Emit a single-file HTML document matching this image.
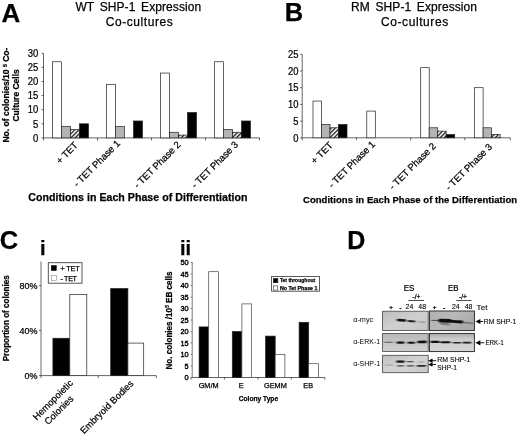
<!DOCTYPE html>
<html><head><meta charset="utf-8"><title>Figure</title>
<style>
html,body{margin:0;padding:0;background:#fff;}
text{stroke:#000;stroke-width:0.25px;}
svg{display:block;font-family:'Liberation Sans', sans-serif;}
</style></head>
<body>
<svg width="520" height="437" viewBox="0 0 520 437">
<defs>
<pattern id="hatch" width="3" height="3" patternUnits="userSpaceOnUse" patternTransform="rotate(-45)">
<rect width="3" height="3" fill="#fff"/><rect width="3" height="1.3" fill="#111"/>
</pattern>
<filter id="b2" x="370" y="300" width="120" height="90" filterUnits="userSpaceOnUse"><feGaussianBlur stdDeviation="0.85 0.6"/></filter>
<linearGradient id="g1" x1="0" y1="0" x2="1" y2="1"><stop offset="0" stop-color="#bdbdbd"/><stop offset="0.5" stop-color="#d0d0d0"/><stop offset="1" stop-color="#c4c4c4"/></linearGradient>
<linearGradient id="g2" x1="0" y1="0" x2="1" y2="0.6"><stop offset="0" stop-color="#b0b0b0"/><stop offset="0.5" stop-color="#b8b8b8"/><stop offset="1" stop-color="#a8a8a8"/></linearGradient>
<linearGradient id="g3" x1="0" y1="0" x2="0" y2="1"><stop offset="0" stop-color="#b8b8b8"/><stop offset="0.5" stop-color="#c6c6c6"/><stop offset="1" stop-color="#cfcfcf"/></linearGradient>
<linearGradient id="g4" x1="0" y1="0" x2="0" y2="1"><stop offset="0" stop-color="#a8a8a8"/><stop offset="0.3" stop-color="#cccccc"/><stop offset="1" stop-color="#d6d6d6"/></linearGradient>
<linearGradient id="g5" x1="0" y1="0" x2="1" y2="1"><stop offset="0" stop-color="#c0c0c0"/><stop offset="0.5" stop-color="#d4d4d4"/><stop offset="1" stop-color="#c8c8c8"/></linearGradient>
</defs>
<rect width="520" height="437" fill="#fff"/>
<g fill="#000" opacity="0.999" class="t">
<text x="1.6" y="21.7" font-size="26" font-weight="bold" text-anchor="start">A</text>
<text x="75.4" y="10.9" font-size="12" font-weight="normal" text-anchor="start" textLength="125.8" lengthAdjust="spacing" style="word-spacing:2.2px">WT SHP-1 Expression</text>
<text x="105.8" y="26.1" font-size="12" font-weight="normal" text-anchor="start" textLength="66.9" lengthAdjust="spacing">Co-cultures</text>
<line x1="43.50" y1="53.40" x2="43.50" y2="137.90" stroke="#333" stroke-width="0.75"/>
<line x1="41.50" y1="137.90" x2="43.50" y2="137.90" stroke="#333" stroke-width="0.75"/>
<text x="0" y="0" font-size="10.5" font-weight="normal" text-anchor="end" transform="translate(38.2 141.6) scale(0.9 1)">0</text>
<line x1="41.50" y1="123.80" x2="43.50" y2="123.80" stroke="#333" stroke-width="0.75"/>
<text x="0" y="0" font-size="10.5" font-weight="normal" text-anchor="end" transform="translate(38.2 127.50000000000001) scale(0.9 1)">5</text>
<line x1="41.50" y1="109.70" x2="43.50" y2="109.70" stroke="#333" stroke-width="0.75"/>
<text x="0" y="0" font-size="10.5" font-weight="normal" text-anchor="end" transform="translate(38.2 113.4) scale(0.9 1)">10</text>
<line x1="41.50" y1="95.60" x2="43.50" y2="95.60" stroke="#333" stroke-width="0.75"/>
<text x="0" y="0" font-size="10.5" font-weight="normal" text-anchor="end" transform="translate(38.2 99.30000000000001) scale(0.9 1)">15</text>
<line x1="41.50" y1="81.50" x2="43.50" y2="81.50" stroke="#333" stroke-width="0.75"/>
<text x="0" y="0" font-size="10.5" font-weight="normal" text-anchor="end" transform="translate(38.2 85.2) scale(0.9 1)">20</text>
<line x1="41.50" y1="67.40" x2="43.50" y2="67.40" stroke="#333" stroke-width="0.75"/>
<text x="0" y="0" font-size="10.5" font-weight="normal" text-anchor="end" transform="translate(38.2 71.10000000000001) scale(0.9 1)">25</text>
<line x1="41.50" y1="53.30" x2="43.50" y2="53.30" stroke="#333" stroke-width="0.75"/>
<text x="0" y="0" font-size="10.5" font-weight="normal" text-anchor="end" transform="translate(38.2 57.000000000000014) scale(0.9 1)">30</text>
<line x1="43.50" y1="137.90" x2="259.60" y2="137.90" stroke="#333" stroke-width="0.75"/>
<line x1="43.50" y1="137.90" x2="43.50" y2="140.40" stroke="#333" stroke-width="0.75"/>
<line x1="97.50" y1="137.90" x2="97.50" y2="140.40" stroke="#333" stroke-width="0.75"/>
<line x1="151.50" y1="137.90" x2="151.50" y2="140.40" stroke="#333" stroke-width="0.75"/>
<line x1="205.50" y1="137.90" x2="205.50" y2="140.40" stroke="#333" stroke-width="0.75"/>
<line x1="259.50" y1="137.90" x2="259.50" y2="140.40" stroke="#333" stroke-width="0.75"/>
<rect x="52.50" y="61.76" width="9.00" height="76.14" fill="#fff" stroke="#222" stroke-width="0.7"/>
<rect x="61.50" y="126.62" width="9.00" height="11.28" fill="#b4b4b4" stroke="#222" stroke-width="0.7"/>
<rect x="70.50" y="129.44" width="9.00" height="8.46" fill="url(#hatch)" stroke="#222" stroke-width="0.7"/>
<rect x="79.50" y="123.80" width="9.00" height="14.10" fill="#000" stroke="#222" stroke-width="0.7"/>
<rect x="106.50" y="84.32" width="9.00" height="53.58" fill="#fff" stroke="#222" stroke-width="0.7"/>
<rect x="115.50" y="126.62" width="9.00" height="11.28" fill="#b4b4b4" stroke="#222" stroke-width="0.7"/>
<rect x="133.50" y="120.98" width="9.00" height="16.92" fill="#000" stroke="#222" stroke-width="0.7"/>
<rect x="160.50" y="73.04" width="9.00" height="64.86" fill="#fff" stroke="#222" stroke-width="0.7"/>
<rect x="169.50" y="132.26" width="9.00" height="5.64" fill="#b4b4b4" stroke="#222" stroke-width="0.7"/>
<rect x="178.50" y="135.08" width="9.00" height="2.82" fill="url(#hatch)" stroke="#222" stroke-width="0.7"/>
<rect x="187.50" y="112.52" width="9.00" height="25.38" fill="#000" stroke="#222" stroke-width="0.7"/>
<rect x="214.50" y="61.76" width="9.00" height="76.14" fill="#fff" stroke="#222" stroke-width="0.7"/>
<rect x="223.50" y="129.44" width="9.00" height="8.46" fill="#b4b4b4" stroke="#222" stroke-width="0.7"/>
<rect x="232.50" y="132.26" width="9.00" height="5.64" fill="url(#hatch)" stroke="#222" stroke-width="0.7"/>
<rect x="241.50" y="120.98" width="9.00" height="16.92" fill="#000" stroke="#222" stroke-width="0.7"/>
<text x="0" y="0" font-size="9.6" font-weight="normal" text-anchor="end" transform="translate(78.5 145.9) rotate(-45)">+ TET</text>
<text x="0" y="0" font-size="9.6" font-weight="normal" text-anchor="end" transform="translate(120.8 144) rotate(-45)">- TET Phase 1</text>
<text x="0" y="0" font-size="9.6" font-weight="normal" text-anchor="end" transform="translate(181.3 145.3) rotate(-45)">- TET Phase 2</text>
<text x="0" y="0" font-size="9.6" font-weight="normal" text-anchor="end" transform="translate(238.8 145.3) rotate(-45)">- TET Phase 3</text>
<text x="28.3" y="201.4" font-size="10.6" font-weight="bold" text-anchor="start" textLength="219.2" lengthAdjust="spacing">Conditions in Each Phase of Differentiation</text>
<text x="0" y="0" font-size="9.2" font-weight="bold" text-anchor="start" transform="translate(9.1 142.6) rotate(-90)" textLength="95" lengthAdjust="spacingAndGlyphs">No. of colonies/10 <tspan font-size="5.5" dy="-2.5">5</tspan><tspan dy="2.5"> Co-</tspan></text>
<text x="0" y="0" font-size="9" font-weight="bold" text-anchor="start" transform="translate(18.9 121.5) rotate(-90)" textLength="52.2" lengthAdjust="spacingAndGlyphs">Culture Cells</text>
<text x="284.8" y="20.9" font-size="25.5" font-weight="bold" text-anchor="start">B</text>
<text x="351" y="11" font-size="12" font-weight="normal" text-anchor="start" textLength="126" lengthAdjust="spacing" style="word-spacing:2.2px">RM SHP-1 Expression</text>
<text x="381" y="26" font-size="12" font-weight="normal" text-anchor="start" textLength="67.2" lengthAdjust="spacing">Co-cultures</text>
<line x1="302.20" y1="54.30" x2="302.20" y2="137.80" stroke="#333" stroke-width="0.75"/>
<line x1="300.20" y1="137.80" x2="302.20" y2="137.80" stroke="#333" stroke-width="0.75"/>
<text x="0" y="0" font-size="10.5" font-weight="normal" text-anchor="end" transform="translate(298.4 141.5) scale(0.9 1)">0</text>
<line x1="300.20" y1="121.10" x2="302.20" y2="121.10" stroke="#333" stroke-width="0.75"/>
<text x="0" y="0" font-size="10.5" font-weight="normal" text-anchor="end" transform="translate(298.4 124.80000000000001) scale(0.9 1)">5</text>
<line x1="300.20" y1="104.40" x2="302.20" y2="104.40" stroke="#333" stroke-width="0.75"/>
<text x="0" y="0" font-size="10.5" font-weight="normal" text-anchor="end" transform="translate(298.4 108.10000000000001) scale(0.9 1)">10</text>
<line x1="300.20" y1="87.70" x2="302.20" y2="87.70" stroke="#333" stroke-width="0.75"/>
<text x="0" y="0" font-size="10.5" font-weight="normal" text-anchor="end" transform="translate(298.4 91.40000000000002) scale(0.9 1)">15</text>
<line x1="300.20" y1="71.00" x2="302.20" y2="71.00" stroke="#333" stroke-width="0.75"/>
<text x="0" y="0" font-size="10.5" font-weight="normal" text-anchor="end" transform="translate(298.4 74.70000000000002) scale(0.9 1)">20</text>
<line x1="300.20" y1="54.30" x2="302.20" y2="54.30" stroke="#333" stroke-width="0.75"/>
<text x="0" y="0" font-size="10.5" font-weight="normal" text-anchor="end" transform="translate(298.4 58.000000000000014) scale(0.9 1)">25</text>
<line x1="302.20" y1="137.80" x2="510.30" y2="137.80" stroke="#333" stroke-width="0.75"/>
<line x1="302.20" y1="137.80" x2="302.20" y2="140.30" stroke="#333" stroke-width="0.75"/>
<line x1="356.50" y1="137.80" x2="356.50" y2="140.30" stroke="#333" stroke-width="0.75"/>
<line x1="410.70" y1="137.80" x2="410.70" y2="140.30" stroke="#333" stroke-width="0.75"/>
<line x1="464.80" y1="137.80" x2="464.80" y2="140.30" stroke="#333" stroke-width="0.75"/>
<line x1="510.30" y1="137.80" x2="510.30" y2="140.30" stroke="#333" stroke-width="0.75"/>
<rect x="313.00" y="101.06" width="8.50" height="36.74" fill="#fff" stroke="#222" stroke-width="0.7"/>
<rect x="321.50" y="124.44" width="8.50" height="13.36" fill="#b4b4b4" stroke="#222" stroke-width="0.7"/>
<rect x="330.00" y="127.78" width="8.50" height="10.02" fill="url(#hatch)" stroke="#222" stroke-width="0.7"/>
<rect x="338.50" y="124.44" width="8.50" height="13.36" fill="#000" stroke="#222" stroke-width="0.7"/>
<rect x="366.80" y="111.08" width="8.50" height="26.72" fill="#fff" stroke="#222" stroke-width="0.7"/>
<rect x="420.70" y="67.66" width="8.50" height="70.14" fill="#fff" stroke="#222" stroke-width="0.7"/>
<rect x="429.20" y="127.78" width="8.50" height="10.02" fill="#b4b4b4" stroke="#222" stroke-width="0.7"/>
<rect x="437.70" y="131.12" width="8.50" height="6.68" fill="url(#hatch)" stroke="#222" stroke-width="0.7"/>
<rect x="446.20" y="134.46" width="8.50" height="3.34" fill="#000" stroke="#222" stroke-width="0.7"/>
<rect x="474.60" y="87.70" width="8.50" height="50.10" fill="#fff" stroke="#222" stroke-width="0.7"/>
<rect x="483.10" y="127.78" width="8.50" height="10.02" fill="#b4b4b4" stroke="#222" stroke-width="0.7"/>
<rect x="491.60" y="134.46" width="8.50" height="3.34" fill="url(#hatch)" stroke="#222" stroke-width="0.7"/>
<text x="0" y="0" font-size="9.6" font-weight="normal" text-anchor="end" transform="translate(333.3 145.9) rotate(-45)">+ TET</text>
<text x="0" y="0" font-size="9.6" font-weight="normal" text-anchor="end" transform="translate(375.7 145) rotate(-45)">- TET Phase 1</text>
<text x="0" y="0" font-size="9.6" font-weight="normal" text-anchor="end" transform="translate(436.5 146.7) rotate(-45)">- TET Phase 2</text>
<text x="0" y="0" font-size="9.6" font-weight="normal" text-anchor="end" transform="translate(492.8 147.5) rotate(-45)">- TET Phase 3</text>
<text x="303.0" y="203.3" font-size="9.5" font-weight="bold" text-anchor="start" textLength="214.1" lengthAdjust="spacing">Conditions in Each Phase of the Differentiation</text>
<text x="-0.3" y="249.2" font-size="25.5" font-weight="bold" text-anchor="start">C</text>
<text x="39.9" y="255.2" font-size="20" font-weight="bold" text-anchor="start">i</text>
<line x1="41.00" y1="261.60" x2="41.00" y2="375.60" stroke="#444" stroke-width="0.8"/>
<line x1="41.00" y1="375.60" x2="156.30" y2="375.60" stroke="#333" stroke-width="0.75"/>
<line x1="41.00" y1="375.60" x2="41.00" y2="378.10" stroke="#333" stroke-width="0.75"/>
<line x1="98.20" y1="375.60" x2="98.20" y2="378.10" stroke="#333" stroke-width="0.75"/>
<line x1="156.30" y1="375.60" x2="156.30" y2="378.10" stroke="#333" stroke-width="0.75"/>
<line x1="39.00" y1="375.60" x2="41.00" y2="375.60" stroke="#333" stroke-width="0.75"/>
<text x="37.4" y="378.90000000000003" font-size="9" font-weight="normal" text-anchor="end">0%</text>
<line x1="39.00" y1="330.60" x2="41.00" y2="330.60" stroke="#333" stroke-width="0.75"/>
<text x="37.4" y="333.90000000000003" font-size="9" font-weight="normal" text-anchor="end">40%</text>
<line x1="39.00" y1="285.60" x2="41.00" y2="285.60" stroke="#333" stroke-width="0.75"/>
<text x="37.4" y="288.90000000000003" font-size="9" font-weight="normal" text-anchor="end">80%</text>
<rect x="52.90" y="338.25" width="16.90" height="37.35" fill="#000" stroke="#222" stroke-width="0.7"/>
<rect x="69.80" y="294.60" width="17.00" height="81.00" fill="#fff" stroke="#222" stroke-width="0.7"/>
<rect x="110.70" y="288.53" width="17.20" height="87.08" fill="#000" stroke="#222" stroke-width="0.7"/>
<rect x="127.90" y="343.09" width="15.80" height="32.51" fill="#fff" stroke="#222" stroke-width="0.7"/>
<rect x="48.30" y="262.70" width="33.70" height="20.50" fill="#fff" stroke="#444" stroke-width="0.9"/>
<rect x="51.20" y="265.40" width="5.30" height="5.30" fill="#000" stroke="#000" stroke-width="0.3"/>
<rect x="51.30" y="275.40" width="5.10" height="5.10" fill="#fff" stroke="#888" stroke-width="0.6"/>
<text x="60.5" y="270.6" font-size="7.2" font-weight="normal" text-anchor="start" textLength="19.1" lengthAdjust="spacing">+ TET</text>
<text x="60.5" y="280.6" font-size="7.2" font-weight="normal" text-anchor="start" textLength="16.5" lengthAdjust="spacing">- TET</text>
<text x="0" y="0" font-size="8.6" font-weight="bold" text-anchor="start" transform="translate(9.1 361.3) rotate(-90)" textLength="86" lengthAdjust="spacingAndGlyphs">Proportion of colonies</text>
<text x="0" y="0" font-size="9.4" font-weight="normal" text-anchor="end" transform="translate(73.5 383.8) rotate(-45)">Hemopoietic</text>
<text x="0" y="0" font-size="9.4" font-weight="normal" text-anchor="end" transform="translate(74.1 399.4) rotate(-45)">Colonies</text>
<text x="0" y="0" font-size="9.4" font-weight="normal" text-anchor="end" transform="translate(134.1 384.2) rotate(-45)">Embryoid Bodies</text>
<text x="179.9" y="254.5" font-size="20" font-weight="bold" text-anchor="start">ii</text>
<line x1="192.20" y1="262.00" x2="192.20" y2="377.50" stroke="#555" stroke-width="0.8"/>
<line x1="192.20" y1="377.50" x2="325.00" y2="377.50" stroke="#333" stroke-width="0.75"/>
<line x1="191.00" y1="377.50" x2="191.00" y2="379.50" stroke="#333" stroke-width="0.75"/>
<line x1="224.45" y1="377.50" x2="224.45" y2="379.50" stroke="#333" stroke-width="0.75"/>
<line x1="257.90" y1="377.50" x2="257.90" y2="379.50" stroke="#333" stroke-width="0.75"/>
<line x1="291.35" y1="377.50" x2="291.35" y2="379.50" stroke="#333" stroke-width="0.75"/>
<line x1="324.80" y1="377.50" x2="324.80" y2="379.50" stroke="#333" stroke-width="0.75"/>
<line x1="190.70" y1="377.50" x2="192.20" y2="377.50" stroke="#333" stroke-width="0.6"/>
<text x="0" y="0" font-size="7.9" font-weight="normal" text-anchor="end" transform="translate(188.6 380.3) scale(0.93 1)" style="stroke-width:0.4px">0</text>
<line x1="190.70" y1="366.00" x2="192.20" y2="366.00" stroke="#333" stroke-width="0.6"/>
<text x="0" y="0" font-size="7.9" font-weight="normal" text-anchor="end" transform="translate(188.6 368.8) scale(0.93 1)" style="stroke-width:0.4px">5</text>
<line x1="190.70" y1="354.50" x2="192.20" y2="354.50" stroke="#333" stroke-width="0.6"/>
<text x="0" y="0" font-size="7.9" font-weight="normal" text-anchor="end" transform="translate(188.6 357.3) scale(0.93 1)" style="stroke-width:0.4px">10</text>
<line x1="190.70" y1="343.00" x2="192.20" y2="343.00" stroke="#333" stroke-width="0.6"/>
<text x="0" y="0" font-size="7.9" font-weight="normal" text-anchor="end" transform="translate(188.6 345.8) scale(0.93 1)" style="stroke-width:0.4px">15</text>
<line x1="190.70" y1="331.50" x2="192.20" y2="331.50" stroke="#333" stroke-width="0.6"/>
<text x="0" y="0" font-size="7.9" font-weight="normal" text-anchor="end" transform="translate(188.6 334.3) scale(0.93 1)" style="stroke-width:0.4px">20</text>
<line x1="190.70" y1="320.00" x2="192.20" y2="320.00" stroke="#333" stroke-width="0.6"/>
<text x="0" y="0" font-size="7.9" font-weight="normal" text-anchor="end" transform="translate(188.6 322.8) scale(0.93 1)" style="stroke-width:0.4px">25</text>
<line x1="190.70" y1="308.50" x2="192.20" y2="308.50" stroke="#333" stroke-width="0.6"/>
<text x="0" y="0" font-size="7.9" font-weight="normal" text-anchor="end" transform="translate(188.6 311.3) scale(0.93 1)" style="stroke-width:0.4px">30</text>
<line x1="190.70" y1="297.00" x2="192.20" y2="297.00" stroke="#333" stroke-width="0.6"/>
<text x="0" y="0" font-size="7.9" font-weight="normal" text-anchor="end" transform="translate(188.6 299.8) scale(0.93 1)" style="stroke-width:0.4px">35</text>
<line x1="190.70" y1="285.50" x2="192.20" y2="285.50" stroke="#333" stroke-width="0.6"/>
<text x="0" y="0" font-size="7.9" font-weight="normal" text-anchor="end" transform="translate(188.6 288.3) scale(0.93 1)" style="stroke-width:0.4px">40</text>
<line x1="190.70" y1="274.00" x2="192.20" y2="274.00" stroke="#333" stroke-width="0.6"/>
<text x="0" y="0" font-size="7.9" font-weight="normal" text-anchor="end" transform="translate(188.6 276.8) scale(0.93 1)" style="stroke-width:0.4px">45</text>
<line x1="190.70" y1="262.50" x2="192.20" y2="262.50" stroke="#333" stroke-width="0.6"/>
<text x="0" y="0" font-size="7.9" font-weight="normal" text-anchor="end" transform="translate(188.6 265.3) scale(0.93 1)" style="stroke-width:0.4px">50</text>
<rect x="199.10" y="326.90" width="9.60" height="50.60" fill="#000" stroke="#222" stroke-width="0.7"/>
<rect x="208.70" y="271.70" width="9.70" height="105.80" fill="#fff" stroke="#444" stroke-width="0.7"/>
<rect x="232.30" y="331.50" width="9.60" height="46.00" fill="#000" stroke="#222" stroke-width="0.7"/>
<rect x="241.90" y="303.90" width="9.70" height="73.60" fill="#fff" stroke="#444" stroke-width="0.7"/>
<rect x="265.60" y="336.10" width="9.60" height="41.40" fill="#000" stroke="#222" stroke-width="0.7"/>
<rect x="275.20" y="354.50" width="9.70" height="23.00" fill="#fff" stroke="#444" stroke-width="0.7"/>
<rect x="299.10" y="322.30" width="9.60" height="55.20" fill="#000" stroke="#222" stroke-width="0.7"/>
<rect x="308.70" y="363.70" width="9.70" height="13.80" fill="#fff" stroke="#444" stroke-width="0.7"/>
<text x="208.6" y="388.1" font-size="7.3" font-weight="normal" text-anchor="middle">GM/M</text>
<text x="241.2" y="388.1" font-size="7.3" font-weight="normal" text-anchor="middle">E</text>
<text x="275.4" y="388.1" font-size="7.3" font-weight="normal" text-anchor="middle">GEMM</text>
<text x="308.2" y="388.1" font-size="7.3" font-weight="normal" text-anchor="middle">EB</text>
<text x="238.7" y="401.3" font-size="7.3" font-weight="bold" text-anchor="start" textLength="39.4" lengthAdjust="spacingAndGlyphs">Colony Type</text>
<text x="0" y="0" font-size="8.6" font-weight="bold" text-anchor="start" transform="translate(171.8 369.5) rotate(-90)" textLength="98.1" lengthAdjust="spacingAndGlyphs">No. colonies /10<tspan font-size="5.2" dy="-2.6">5</tspan><tspan dy="2.6"> EB cells</tspan></text>
<rect x="271.60" y="276.40" width="47.90" height="14.80" fill="#fff" stroke="#333" stroke-width="0.8"/>
<rect x="273.50" y="278.50" width="4.30" height="4.20" fill="#000" stroke="#222" stroke-width="0.7"/>
<rect x="273.50" y="285.90" width="4.30" height="4.20" fill="#fff" stroke="#333" stroke-width="0.6"/>
<text x="279.9" y="282.3" font-size="5.9" font-weight="bold" text-anchor="start" textLength="35.3" lengthAdjust="spacingAndGlyphs">Tet throughout</text>
<text x="279.9" y="289.9" font-size="5.9" font-weight="bold" text-anchor="start" textLength="37.6" lengthAdjust="spacingAndGlyphs">No Tet Phase 1</text>
<text x="347.2" y="249" font-size="25" font-weight="bold" text-anchor="start">D</text>
<text x="0" y="0" font-size="8.5" font-weight="normal" text-anchor="middle" transform="translate(409 290.6) scale(0.93 1)">ES</text>
<text x="0" y="0" font-size="8.5" font-weight="normal" text-anchor="middle" transform="translate(453.2 290.9) scale(0.93 1)">EB</text>
<text x="0" y="0" font-size="7" font-weight="normal" text-anchor="middle" transform="translate(416.5 299.2) scale(0.95 1)">-/+</text>
<text x="0" y="0" font-size="7" font-weight="normal" text-anchor="middle" transform="translate(463 299.2) scale(0.95 1)">-/+</text>
<line x1="408.30" y1="300.50" x2="424.10" y2="300.50" stroke="#222" stroke-width="0.8"/>
<line x1="456.20" y1="300.50" x2="471.50" y2="300.50" stroke="#222" stroke-width="0.8"/>
<text x="391.1" y="309.3" font-size="6.2" font-weight="bold" text-anchor="middle">+</text>
<text x="0" y="0" font-size="7.5" font-weight="bold" text-anchor="middle" transform="translate(400.5 309.6) scale(0.8 1)">-</text>
<text x="409.4" y="309.4" font-size="6.9" font-weight="normal" text-anchor="middle" style="stroke-width:0.12px">24</text>
<text x="422.2" y="309.4" font-size="6.9" font-weight="normal" text-anchor="middle" style="stroke-width:0.12px">48</text>
<text x="434.6" y="309.3" font-size="6.2" font-weight="bold" text-anchor="middle">+</text>
<text x="0" y="0" font-size="7.5" font-weight="bold" text-anchor="middle" transform="translate(444.3 309.6) scale(0.8 1)">-</text>
<text x="455.8" y="309.4" font-size="6.9" font-weight="normal" text-anchor="middle" style="stroke-width:0.12px">24</text>
<text x="468.6" y="309.4" font-size="6.9" font-weight="normal" text-anchor="middle" style="stroke-width:0.12px">48</text>
<text x="476.6" y="309.5" font-size="7.2" font-weight="normal" text-anchor="start" textLength="10.8" lengthAdjust="spacingAndGlyphs" style="stroke-width:0.12px">Tet</text>
<text x="353.2" y="322.2" font-size="7.4" font-weight="normal" text-anchor="start" textLength="20" lengthAdjust="spacingAndGlyphs" style="stroke:none">α-myc</text>
<text x="353.2" y="343.8" font-size="7.4" font-weight="normal" text-anchor="start" textLength="26.9" lengthAdjust="spacingAndGlyphs" style="stroke:none">α-ERK-1</text>
<text x="353.2" y="366.1" font-size="7.4" font-weight="normal" text-anchor="start" textLength="26.9" lengthAdjust="spacingAndGlyphs" style="stroke:none">α-SHP-1</text>
<rect x="382.6" y="311.2" width="45.6" height="19.2" fill="url(#g1)" stroke="#444" stroke-width="0.8"/>
<rect x="429.4" y="311.0" width="45.0" height="19.6" fill="url(#g2)" stroke="#222" stroke-width="0.9"/>
<rect x="382.6" y="333.4" width="45.6" height="18.0" fill="url(#g3)" stroke="#444" stroke-width="0.8"/>
<rect x="429.4" y="333.4" width="45.0" height="18.2" fill="url(#g4)" stroke="#222" stroke-width="0.9"/>
<rect x="382.6" y="355.3" width="45.6" height="17.4" fill="url(#g5)" stroke="#444" stroke-width="0.8"/>
<g filter="url(#b2)" stroke-linecap="round" fill="none">
<line x1="398" y1="319.9" x2="405" y2="320.4" stroke="#0a0a0a" stroke-width="2.46"/>
<line x1="408.5" y1="321" x2="414.5" y2="321.5" stroke="#1a1a1a" stroke-width="1.8"/>
<line x1="419" y1="321.9" x2="425" y2="322.2" stroke="#777" stroke-width="0.82"/>
<line x1="431.5" y1="320.4" x2="438" y2="320.4" stroke="#444" stroke-width="0.98"/>
<line x1="440" y1="320.6" x2="450" y2="320.8" stroke="#0a0a0a" stroke-width="3.77"/>
<line x1="441" y1="323.5" x2="449" y2="324.5" stroke="#777" stroke-width="2.05"/>
<line x1="452" y1="321.3" x2="462" y2="322" stroke="#0a0a0a" stroke-width="2.79"/>
<line x1="464" y1="322.8" x2="473" y2="323.2" stroke="#555" stroke-width="1.07"/>
<line x1="384.5" y1="342.3" x2="392.5" y2="342.3" stroke="#555" stroke-width="1.07"/>
<line x1="397.5" y1="342.6" x2="403.5" y2="342.6" stroke="#0a0a0a" stroke-width="2.05"/>
<line x1="408.5" y1="342.7" x2="414" y2="342.7" stroke="#0a0a0a" stroke-width="2.05"/>
<line x1="418.5" y1="342" x2="425.5" y2="341.9" stroke="#0a0a0a" stroke-width="2.71"/>
<line x1="431.5" y1="341.9" x2="438.5" y2="341.9" stroke="#0a0a0a" stroke-width="2.13"/>
<line x1="441.5" y1="342.3" x2="449.5" y2="342.3" stroke="#0a0a0a" stroke-width="2.05"/>
<line x1="453.5" y1="342.7" x2="460.5" y2="342.7" stroke="#222" stroke-width="1.56"/>
<line x1="463.5" y1="342.7" x2="470.5" y2="342.7" stroke="#1a1a1a" stroke-width="1.72"/>
<line x1="397.3" y1="361.6" x2="403.6" y2="361.6" stroke="#0a0a0a" stroke-width="2.13"/>
<line x1="407.5" y1="361.6" x2="413" y2="361.6" stroke="#444" stroke-width="1.39"/>
<line x1="418.5" y1="362" x2="423.5" y2="362" stroke="#888" stroke-width="0.74"/>
<line x1="385.5" y1="365.1" x2="392.5" y2="365.1" stroke="#888" stroke-width="0.74"/>
<line x1="397.8" y1="365.9" x2="403.4" y2="365.9" stroke="#444" stroke-width="1.23"/>
<line x1="407.5" y1="365.9" x2="413.5" y2="365.9" stroke="#444" stroke-width="1.31"/>
<line x1="417.5" y1="365.9" x2="425.5" y2="365.9" stroke="#2a2a2a" stroke-width="1.64"/>
</g>
<polygon points="475.4,321.5 480.4,318.9 480.4,324.1" fill="#000"/>
<line x1="479.40" y1="321.50" x2="483.20" y2="321.50" stroke="#000" stroke-width="0.9"/>
<text x="483.8" y="324" font-size="6.9" font-weight="normal" text-anchor="start" textLength="32.4" lengthAdjust="spacingAndGlyphs" style="stroke-width:0.1px">RM SHP-1</text>
<polygon points="475.4,342.8 480.4,340.2 480.4,345.40000000000003" fill="#000"/>
<line x1="479.40" y1="342.80" x2="484.30" y2="342.80" stroke="#000" stroke-width="0.9"/>
<text x="485.4" y="345.3" font-size="6.9" font-weight="normal" text-anchor="start" textLength="18.4" lengthAdjust="spacingAndGlyphs" style="stroke-width:0.1px">ERK-1</text>
<polygon points="428.2,360.7 432.5,358.5 432.5,362.9" fill="#000"/>
<line x1="431.50" y1="360.70" x2="436.30" y2="360.70" stroke="#000" stroke-width="0.9"/>
<polygon points="428.2,364.5 432.5,362.3 432.5,366.7" fill="#000"/>
<line x1="431.50" y1="364.50" x2="436.00" y2="364.50" stroke="#000" stroke-width="0.9"/>
<text x="437.3" y="362.0" font-size="6.9" font-weight="normal" text-anchor="start" textLength="33.2" lengthAdjust="spacingAndGlyphs" style="stroke-width:0.1px">RM SHP-1</text>
<text x="437.3" y="370.3" font-size="6.9" font-weight="normal" text-anchor="start" textLength="19.8" lengthAdjust="spacingAndGlyphs" style="stroke-width:0.1px">SHP-1</text>
</g>
</svg>
</body></html>
